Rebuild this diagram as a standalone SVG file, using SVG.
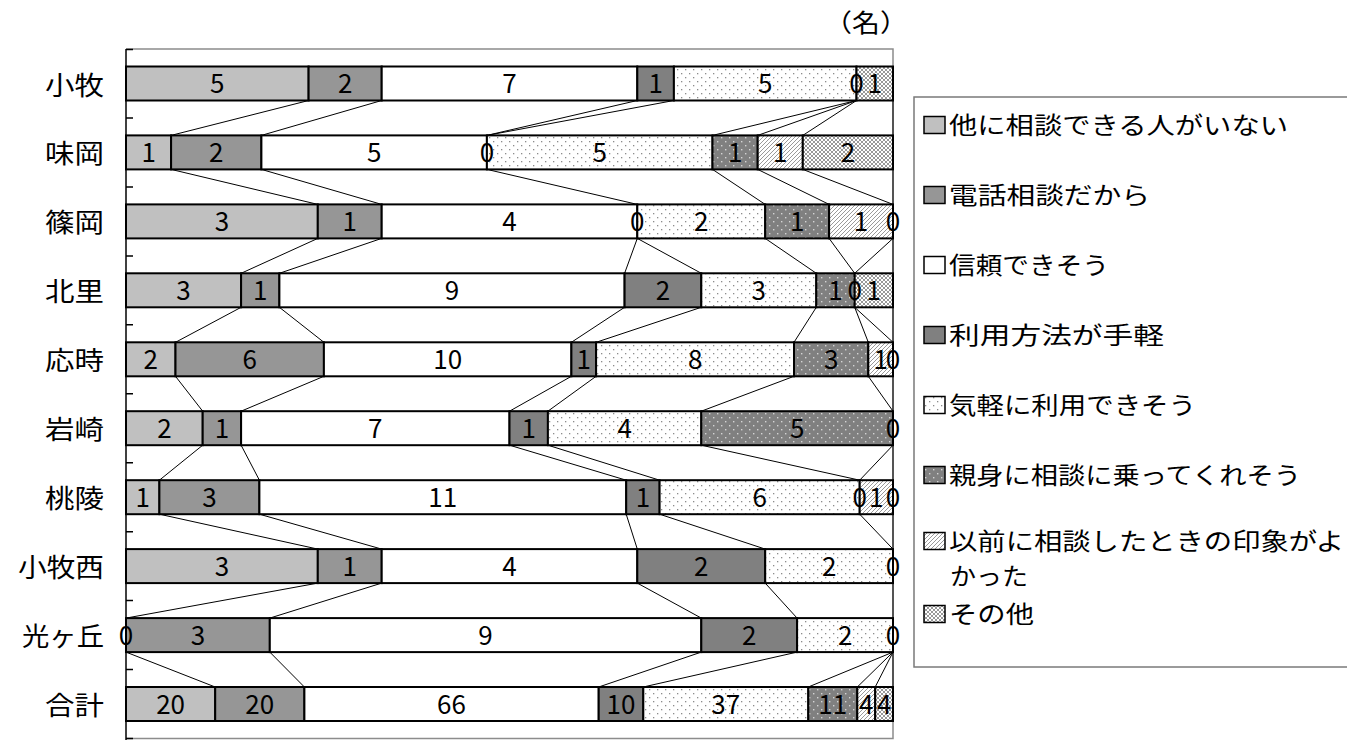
<svg xmlns="http://www.w3.org/2000/svg" width="1347" height="740" viewBox="0 0 1347 740">
<style>
text{font-family:"Noto Sans CJK JP","Noto Sans CJK SC",sans-serif;fill:#000}
.v{font-size:26px;text-anchor:middle}
.cat{font-size:26px;text-anchor:end}
.lg{font-size:23.5px}
.seg{stroke:#000;stroke-width:2}
.s1{fill:#c0c0c0}.s2{fill:#969696}.s3{fill:#fff}.s4{fill:#808080}
.s5{fill:url(#pDots)}.s6{fill:url(#pDark)}.s7{fill:url(#pHatch)}.s8{fill:url(#pCross)}
.sl{stroke:#000;stroke-width:1;fill:none}
.mk{stroke:#000;stroke-width:1.5}
</style>
<defs>
<pattern id="pDots" width="8" height="8" patternUnits="userSpaceOnUse"><rect width="8" height="8" fill="#fff"/><rect x="1" y="1" width="1.3" height="1.3" fill="#8c8c8c"/><rect x="5" y="5" width="1.3" height="1.3" fill="#8c8c8c"/></pattern>
<pattern id="pDark" width="8" height="8" patternUnits="userSpaceOnUse"><rect width="8" height="8" fill="#808080"/><rect x="1" y="1" width="1.4" height="1.4" fill="#d4d4d4"/><rect x="5" y="5" width="1.4" height="1.4" fill="#d4d4d4"/></pattern>
<pattern id="pHatch" width="4" height="4" patternUnits="userSpaceOnUse"><rect width="4" height="4" fill="#fff"/><path d="M-1,1 L1,-1 M0,4 L4,0 M3,5 L5,3" stroke="#9a9a9a" stroke-width="1"/></pattern>
<pattern id="pCross" width="4" height="4" patternUnits="userSpaceOnUse"><rect width="4" height="4" fill="#fff"/><path d="M-1,-1 L5,5 M5,-1 L-1,5" stroke="#999" stroke-width="1"/></pattern>
</defs>
<rect width="1347" height="740" fill="#fff"/>

<g id="unit"><text x="824" y="32" font-size="25" textLength="84" lengthAdjust="spacingAndGlyphs">（名）</text></g>

<g id="plot-frame">
<path d="M126,49 H893 V738.5 H126" fill="none" stroke="#8c8c8c" stroke-width="1.5"/>
<path d="M126,49 V740" stroke="#000" stroke-width="1.5"/>
<path d="M126,49.5 h7 M126,118 h7 M126,187 h7 M126,256 h7 M126,324.8 h7 M126,393.8 h7 M126,462.7 h7 M126,531.7 h7 M126,600.6 h7 M126,669.6 h7 M126,738.5 h7" stroke="#000" stroke-width="1.5"/>
</g>

<g id="connectors">
<path class="sl" d="M308.6,100.5L171.1,135.4M381.7,100.5L261.4,135.4M637.3,100.5L486.9,135.4M673.9,100.5L486.9,135.4M856.5,100.5L712.5,135.4M856.5,100.5L757.7,135.4M856.5,100.5L802.8,135.4M893,100.5L893,135.4"/>
<path class="sl" d="M171.1,169.4L317.8,204.4M261.4,169.4L381.7,204.4M486.9,169.4L637.3,204.4M712.5,169.4L765.2,204.4M757.7,169.4L829.1,204.4M802.8,169.4L893,204.4M893,169.4L893,204.4"/>
<path class="sl" d="M317.8,238.4L241.1,273.3M381.7,238.4L279.4,273.3M637.3,238.4L624.6,273.3M637.3,238.4L701.3,273.3M765.2,238.4L816.3,273.3M829.1,238.4L854.7,273.3M893,238.4L854.7,273.3M893,238.4L893,273.3"/>
<path class="sl" d="M241.1,307.3L175.5,342.3M279.4,307.3L323.9,342.3M624.6,307.3L571.4,342.3M701.3,307.3L596.1,342.3M816.3,307.3L794,342.3M854.7,307.3L868.3,342.3M854.7,307.3L893,342.3M893,307.3L893,342.3"/>
<path class="sl" d="M175.5,376.3L202.7,411.2M323.9,376.3L241.1,411.2M571.4,376.3L509.5,411.2M596.1,376.3L547.9,411.2M794,376.3L701.3,411.2M868.3,376.3L893,411.2M893,376.3L893,411.2"/>
<path class="sl" d="M202.7,445.2L159.4,480.2M241.1,445.2L259.4,480.2M509.5,445.2L626.2,480.2M547.9,445.2L659.6,480.2M701.3,445.2L859.7,480.2M893,445.2L859.7,480.2M893,445.2L893,480.2"/>
<path class="sl" d="M159.4,514.2L317.8,549.1M259.4,514.2L381.7,549.1M626.2,514.2L637.3,549.1M659.6,514.2L765.2,549.1M859.7,514.2L893,549.1M893,514.2L893,549.1"/>
<path class="sl" d="M317.8,583.1L126,618.1M381.7,583.1L269.8,618.1M637.3,583.1L701.3,618.1M765.2,583.1L797.1,618.1M893,583.1L893,618.1"/>
<path class="sl" d="M126,652.1L215.2,687M269.8,652.1L304.4,687M701.3,652.1L598.7,687M797.1,652.1L643.3,687M893,652.1L808.3,687M893,652.1L857.3,687M893,652.1L875.2,687M893,652.1L893,687"/>
</g>

<g id="bar-komaki">
<text class="cat" x="104" y="94.5" textLength="59" lengthAdjust="spacingAndGlyphs">小牧</text>
<rect class="seg s1" x="126" y="66.5" width="182.6" height="34"/>
<rect class="seg s2" x="308.6" y="66.5" width="73.1" height="34"/>
<rect class="seg s3" x="381.7" y="66.5" width="255.6" height="34"/>
<rect class="seg s4" x="637.3" y="66.5" width="36.6" height="34"/>
<rect class="seg s5" x="673.9" y="66.5" width="182.6" height="34"/>
<rect class="seg s8" x="856.5" y="66.5" width="36.5" height="34"/>
<text class="v" x="217.3" y="93">5</text><text class="v" x="345.1" y="93">2</text><text class="v" x="509.5" y="93">7</text><text class="v" x="655.6" y="93">1</text><text class="v" x="765.2" y="93">5</text><text class="v" x="856.5" y="93">0</text><text class="v" x="874.7" y="93">1</text>
</g>

<g id="bar-ajioka">
<text class="cat" x="104" y="163.4" textLength="59" lengthAdjust="spacingAndGlyphs">味岡</text>
<rect class="seg s1" x="126" y="135.4" width="45.1" height="34"/>
<rect class="seg s2" x="171.1" y="135.4" width="90.3" height="34"/>
<rect class="seg s3" x="261.4" y="135.4" width="225.5" height="34"/>
<rect class="seg s5" x="486.9" y="135.4" width="225.6" height="34"/>
<rect class="seg s6" x="712.5" y="135.4" width="45.2" height="34"/>
<rect class="seg s7" x="757.7" y="135.4" width="45.1" height="34"/>
<rect class="seg s8" x="802.8" y="135.4" width="90.2" height="34"/>
<text class="v" x="148.6" y="161.9">1</text><text class="v" x="216.2" y="161.9">2</text><text class="v" x="374.2" y="161.9">5</text><text class="v" x="486.9" y="161.9">0</text><text class="v" x="599.7" y="161.9">5</text><text class="v" x="735.1" y="161.9">1</text><text class="v" x="780.2" y="161.9">1</text><text class="v" x="847.9" y="161.9">2</text>
</g>

<g id="bar-shinooka">
<text class="cat" x="104" y="232.4" textLength="59" lengthAdjust="spacingAndGlyphs">篠岡</text>
<rect class="seg s1" x="126" y="204.4" width="191.8" height="34"/>
<rect class="seg s2" x="317.8" y="204.4" width="63.9" height="34"/>
<rect class="seg s3" x="381.7" y="204.4" width="255.6" height="34"/>
<rect class="seg s5" x="637.3" y="204.4" width="127.9" height="34"/>
<rect class="seg s6" x="765.2" y="204.4" width="63.9" height="34"/>
<rect class="seg s7" x="829.1" y="204.4" width="63.9" height="34"/>
<text class="v" x="221.9" y="230.9">3</text><text class="v" x="349.7" y="230.9">1</text><text class="v" x="509.5" y="230.9">4</text><text class="v" x="637.3" y="230.9">0</text><text class="v" x="701.3" y="230.9">2</text><text class="v" x="797.1" y="230.9">1</text><text class="v" x="861" y="230.9">1</text><text class="v" x="893" y="230.9">0</text>
</g>

<g id="bar-kitasato">
<text class="cat" x="104" y="301.3" textLength="59" lengthAdjust="spacingAndGlyphs">北里</text>
<rect class="seg s1" x="126" y="273.3" width="115.1" height="34"/>
<rect class="seg s2" x="241.1" y="273.3" width="38.3" height="34"/>
<rect class="seg s3" x="279.4" y="273.3" width="345.2" height="34"/>
<rect class="seg s4" x="624.6" y="273.3" width="76.7" height="34"/>
<rect class="seg s5" x="701.3" y="273.3" width="115" height="34"/>
<rect class="seg s6" x="816.3" y="273.3" width="38.4" height="34"/>
<rect class="seg s8" x="854.7" y="273.3" width="38.3" height="34"/>
<text class="v" x="183.5" y="299.8">3</text><text class="v" x="260.2" y="299.8">1</text><text class="v" x="452" y="299.8">9</text><text class="v" x="662.9" y="299.8">2</text><text class="v" x="758.8" y="299.8">3</text><text class="v" x="835.5" y="299.8">1</text><text class="v" x="854.7" y="299.8">0</text><text class="v" x="873.8" y="299.8">1</text>
</g>

<g id="bar-ouji">
<text class="cat" x="104" y="370.3" textLength="59" lengthAdjust="spacingAndGlyphs">応時</text>
<rect class="seg s1" x="126" y="342.3" width="49.5" height="34"/>
<rect class="seg s2" x="175.5" y="342.3" width="148.4" height="34"/>
<rect class="seg s3" x="323.9" y="342.3" width="247.5" height="34"/>
<rect class="seg s4" x="571.4" y="342.3" width="24.7" height="34"/>
<rect class="seg s5" x="596.1" y="342.3" width="197.9" height="34"/>
<rect class="seg s6" x="794" y="342.3" width="74.3" height="34"/>
<rect class="seg s7" x="868.3" y="342.3" width="24.7" height="34"/>
<text class="v" x="150.7" y="368.8">2</text><text class="v" x="249.7" y="368.8">6</text><text class="v" x="447.7" y="368.8">10</text><text class="v" x="583.7" y="368.8">1</text><text class="v" x="695.1" y="368.8">8</text><text class="v" x="831.2" y="368.8">3</text><text class="v" x="880.6" y="368.8">1</text><text class="v" x="893" y="368.8">0</text>
</g>

<g id="bar-iwasaki">
<text class="cat" x="104" y="439.2" textLength="59" lengthAdjust="spacingAndGlyphs">岩崎</text>
<rect class="seg s1" x="126" y="411.2" width="76.7" height="34"/>
<rect class="seg s2" x="202.7" y="411.2" width="38.4" height="34"/>
<rect class="seg s3" x="241.1" y="411.2" width="268.4" height="34"/>
<rect class="seg s4" x="509.5" y="411.2" width="38.4" height="34"/>
<rect class="seg s5" x="547.9" y="411.2" width="153.4" height="34"/>
<rect class="seg s6" x="701.3" y="411.2" width="191.7" height="34"/>
<text class="v" x="164.4" y="437.7">2</text><text class="v" x="221.9" y="437.7">1</text><text class="v" x="375.3" y="437.7">7</text><text class="v" x="528.7" y="437.7">1</text><text class="v" x="624.6" y="437.7">4</text><text class="v" x="797.1" y="437.7">5</text><text class="v" x="893" y="437.7">0</text>
</g>

<g id="bar-toryo">
<text class="cat" x="104" y="508.2" textLength="59" lengthAdjust="spacingAndGlyphs">桃陵</text>
<rect class="seg s1" x="126" y="480.2" width="33.4" height="34"/>
<rect class="seg s2" x="159.4" y="480.2" width="100" height="34"/>
<rect class="seg s3" x="259.4" y="480.2" width="366.8" height="34"/>
<rect class="seg s4" x="626.2" y="480.2" width="33.4" height="34"/>
<rect class="seg s5" x="659.6" y="480.2" width="200.1" height="34"/>
<rect class="seg s7" x="859.7" y="480.2" width="33.3" height="34"/>
<text class="v" x="142.7" y="506.7">1</text><text class="v" x="209.4" y="506.7">3</text><text class="v" x="442.8" y="506.7">11</text><text class="v" x="642.9" y="506.7">1</text><text class="v" x="759.6" y="506.7">6</text><text class="v" x="859.7" y="506.7">0</text><text class="v" x="876.3" y="506.7">1</text><text class="v" x="893" y="506.7">0</text>
</g>

<g id="bar-komakinishi">
<text class="cat" x="104" y="577.1" textLength="86" lengthAdjust="spacingAndGlyphs">小牧西</text>
<rect class="seg s1" x="126" y="549.1" width="191.8" height="34"/>
<rect class="seg s2" x="317.8" y="549.1" width="63.9" height="34"/>
<rect class="seg s3" x="381.7" y="549.1" width="255.6" height="34"/>
<rect class="seg s4" x="637.3" y="549.1" width="127.9" height="34"/>
<rect class="seg s5" x="765.2" y="549.1" width="127.8" height="34"/>
<text class="v" x="221.9" y="575.6">3</text><text class="v" x="349.7" y="575.6">1</text><text class="v" x="509.5" y="575.6">4</text><text class="v" x="701.3" y="575.6">2</text><text class="v" x="829.1" y="575.6">2</text><text class="v" x="893" y="575.6">0</text>
</g>

<g id="bar-hikarigaoka">
<text class="cat" x="104" y="646.1" textLength="82" lengthAdjust="spacingAndGlyphs">光ヶ丘</text>
<rect class="seg s2" x="126" y="618.1" width="143.8" height="34"/>
<rect class="seg s3" x="269.8" y="618.1" width="431.5" height="34"/>
<rect class="seg s4" x="701.3" y="618.1" width="95.8" height="34"/>
<rect class="seg s5" x="797.1" y="618.1" width="95.9" height="34"/>
<text class="v" x="126" y="644.6">0</text><text class="v" x="197.9" y="644.6">3</text><text class="v" x="485.5" y="644.6">9</text><text class="v" x="749.2" y="644.6">2</text><text class="v" x="845.1" y="644.6">2</text><text class="v" x="893" y="644.6">0</text>
</g>

<g id="bar-total">
<text class="cat" x="104" y="715" textLength="59" lengthAdjust="spacingAndGlyphs">合計</text>
<rect class="seg s1" x="126" y="687" width="89.2" height="34"/>
<rect class="seg s2" x="215.2" y="687" width="89.2" height="34"/>
<rect class="seg s3" x="304.4" y="687" width="294.3" height="34"/>
<rect class="seg s4" x="598.7" y="687" width="44.6" height="34"/>
<rect class="seg s5" x="643.3" y="687" width="165" height="34"/>
<rect class="seg s6" x="808.3" y="687" width="49" height="34"/>
<rect class="seg s7" x="857.3" y="687" width="17.9" height="34"/>
<rect class="seg s8" x="875.2" y="687" width="17.8" height="34"/>
<text class="v" x="170.6" y="713.5">20</text><text class="v" x="259.8" y="713.5">20</text><text class="v" x="451.5" y="713.5">66</text><text class="v" x="621" y="713.5">10</text><text class="v" x="725.8" y="713.5">37</text><text class="v" x="832.8" y="713.5">11</text><text class="v" x="866.3" y="713.5">4</text><text class="v" x="884.1" y="713.5">4</text>
</g>

<g id="legend">
<rect x="914" y="97" width="440" height="570" fill="#fff" stroke="#7a7a7a" stroke-width="1.5"/>
<g id="lg1"><rect class="mk s1" x="924" y="116.5" width="21" height="17"/><text class="lg" x="949" y="134" textLength="339" lengthAdjust="spacingAndGlyphs">他に相談できる人がいない</text></g>
<g id="lg2"><rect class="mk s2" x="924" y="186.5" width="21" height="17"/><text class="lg" x="949" y="204" textLength="201" lengthAdjust="spacingAndGlyphs">電話相談だから</text></g>
<g id="lg3"><rect class="mk s3" x="924" y="256.5" width="21" height="17"/><text class="lg" x="949" y="274" textLength="160" lengthAdjust="spacingAndGlyphs">信頼できそう</text></g>
<g id="lg4"><rect class="mk s4" x="924" y="326.5" width="21" height="17"/><text class="lg" x="949" y="344" textLength="215" lengthAdjust="spacingAndGlyphs">利用方法が手軽</text></g>
<g id="lg5"><rect class="mk s5" x="924" y="396.5" width="21" height="17"/><text class="lg" x="949" y="414" textLength="247" lengthAdjust="spacingAndGlyphs">気軽に利用できそう</text></g>
<g id="lg6"><rect class="mk s6" x="924" y="466.5" width="21" height="17"/><text class="lg" x="949" y="484" textLength="352" lengthAdjust="spacingAndGlyphs">親身に相談に乗ってくれそう</text></g>
<g id="lg7"><rect class="mk s7" x="924" y="532.5" width="21" height="17"/><text class="lg" x="949" y="550" textLength="395" lengthAdjust="spacingAndGlyphs">以前に相談したときの印象がよ</text><text class="lg" x="950" y="585" textLength="78" lengthAdjust="spacingAndGlyphs">かった</text></g>
<g id="lg8"><rect class="mk s8" x="924" y="605.5" width="21" height="17"/><text class="lg" x="949" y="623" textLength="85" lengthAdjust="spacingAndGlyphs">その他</text></g>
</g>
</svg>
